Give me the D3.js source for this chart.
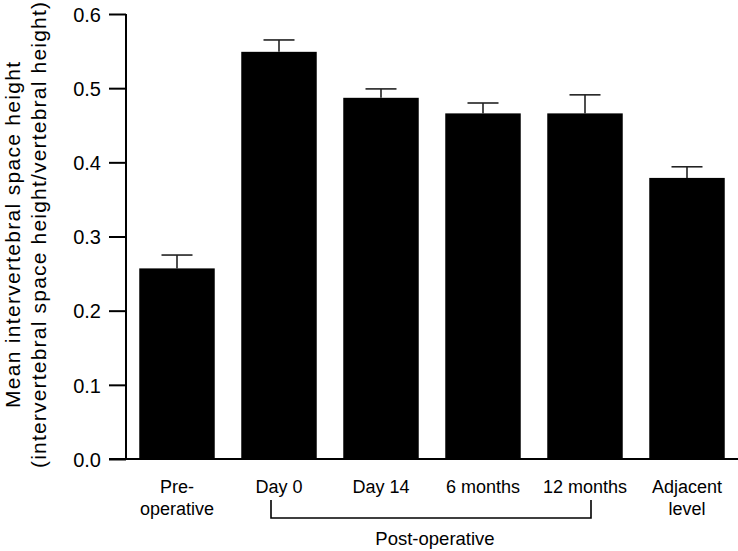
<!DOCTYPE html>
<html><head><meta charset="utf-8">
<script src="https://cdn.jsdelivr.net/npm/d3@7"></script>
<style>body{margin:0;background:#fff}svg{display:block}text{font-family:"Liberation Sans","Helvetica",Arial,sans-serif;fill:#000}</style>
</head><body><svg id="c" width="738" height="551"></svg>
<script>
const categories = [["Pre-","operative"],["Day 0"],["Day 14"],["6 months"],["12 months"],["Adjacent","level"]];
const means = [0.257, 0.549, 0.487, 0.466, 0.466, 0.379];
const errors = [0.018, 0.016, 0.012, 0.014, 0.025, 0.015];
const yTicks = [0.0, 0.1, 0.2, 0.3, 0.4, 0.5, 0.6];
const groupLabel = "Post-operative";
const yTitle = ["Mean intervertebral space height", "(intervertebral space height/vertebral height)"];

const svg = d3.select("#c");
const y = d3.scaleLinear().domain([0, 0.6]).range([459, 14]);
const x = d3.scaleBand().domain(d3.range(categories.length)).range([126, 738]).paddingInner(0.26).paddingOuter(0.13);

const yAxis = svg.append("g").attr("transform","translate(126,0)")
  .call(d3.axisLeft(y).tickValues(yTicks).tickFormat(d3.format(".1f")).tickSize(17).tickPadding(8));
yAxis.select(".domain").attr("d","M0,459V14").attr("stroke","#000").attr("stroke-width",2);
yAxis.selectAll(".tick line").attr("stroke","#000").attr("stroke-width",2);
yAxis.selectAll(".tick text").style("font-size","20px").style("font-family",'"Liberation Sans",sans-serif').attr("dy","0.36em");

svg.append("line").attr("x1",109).attr("x2",738).attr("y1",y(0)).attr("y2",y(0)).attr("stroke","#000").attr("stroke-width",2);

svg.selectAll("rect.bar").data(means).enter().append("rect").attr("class","bar")
  .attr("x",(d,i)=>x(i)).attr("width",x.bandwidth()).attr("y",d=>y(d)).attr("height",d=>y(0)-y(d)).attr("fill","#000");

const eg = svg.selectAll("g.err").data(means).enter().append("g").attr("class","err");
eg.append("line").attr("x1",(d,i)=>x(i)+x.bandwidth()/2).attr("x2",(d,i)=>x(i)+x.bandwidth()/2)
  .attr("y1",d=>y(d)).attr("y2",(d,i)=>y(d+errors[i])).attr("stroke","#222").attr("stroke-width",1.6);
eg.append("line").attr("x1",(d,i)=>x(i)+x.bandwidth()/2-15.5).attr("x2",(d,i)=>x(i)+x.bandwidth()/2+15.5)
  .attr("y1",(d,i)=>y(d+errors[i])).attr("y2",(d,i)=>y(d+errors[i])).attr("stroke","#222").attr("stroke-width",1.6);

categories.forEach((lines,i)=>{
  const t = svg.append("text").attr("x",x(i)+x.bandwidth()/2).attr("y",493).attr("text-anchor","middle").style("font-size","18px");
  lines.forEach((l,j)=>t.append("tspan").attr("x",x(i)+x.bandwidth()/2).attr("dy",j?22:0).text(l));
});

const bx1 = x(1)+x.bandwidth()/2-8, bx2 = x(4)+x.bandwidth()/2+6;
svg.append("path").attr("d",`M${bx1},500V518H${bx2}V500`).attr("fill","none").attr("stroke","#000").attr("stroke-width",1.6);
svg.append("text").attr("x",(bx1+bx2)/2+4).attr("y",545).attr("text-anchor","middle").style("font-size","18.5px").text(groupLabel);

const titleLens = [346, 466];
const yt = svg.append("text").attr("transform","translate(0,235) rotate(-90)").attr("text-anchor","middle").style("font-size","21px");
yTitle.forEach((l,j)=>yt.append("tspan").attr("x",0).attr("y",j?46:20).attr("textLength",titleLens[j]).attr("lengthAdjust","spacing").text(l));
</script></body></html>
